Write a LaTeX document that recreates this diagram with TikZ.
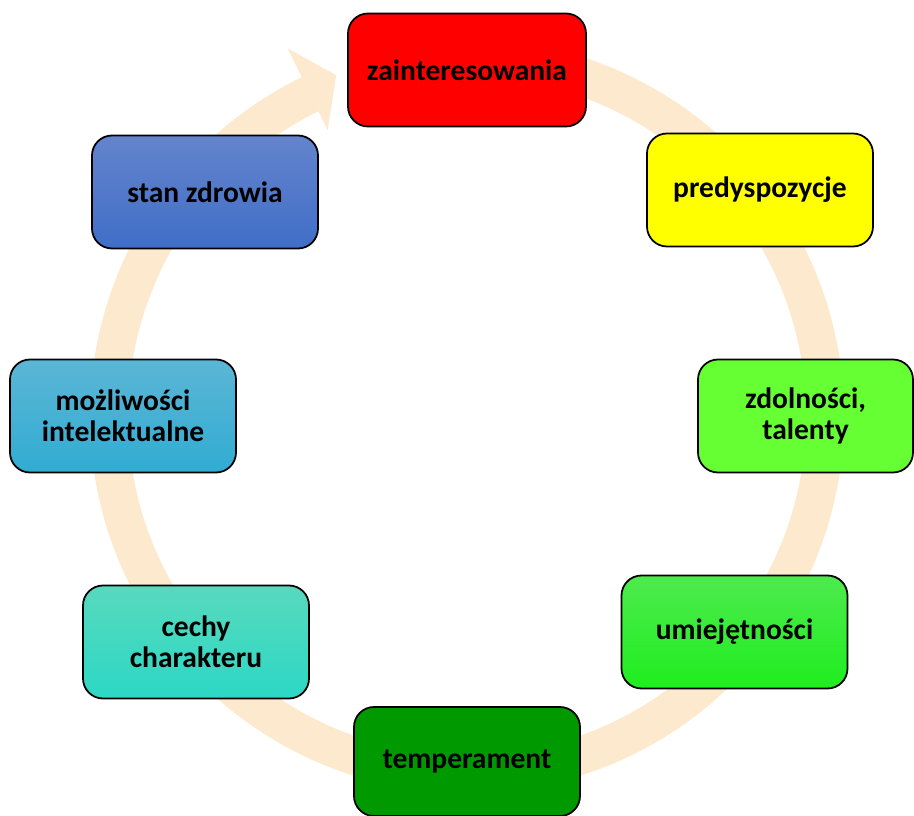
\documentclass[tikz,border=0pt]{standalone}
\usepackage{fontspec}
\setsansfont{Carlito}
\usepackage{xcolor}
\usepackage{tikz}
\usetikzlibrary{arrows.meta}
\usetikzlibrary{calc,positioning}
\definecolor{ringPeach}{RGB}{253,233,205}
\tikzset{%
  % Specifications for style of nodes:
  base/.style = {rectangle, rounded corners=0.4cm, draw=black, line width=1pt,
    minimum width=4.52cm,
    minimum height=2.26cm,
    align=center,
    text centered, font=\sffamily\bfseries\fontsize{16.8}{17.5}\selectfont},
  interests/.style = {base, minimum width=4.76cm, fill={rgb,255:red,255;green,0;blue,0}},
  predisposition/.style = {base, fill={rgb,255:red,255;green,255;blue,0}},
  talents/.style = {base, minimum width=4.3cm, fill={rgb,255:red,102;green,255;blue,51}},
  skills/.style = {base, top color={rgb,255:red,78;green,234;blue,78},
    bottom color={rgb,255:red,30;green,238;blue,30}},
  temperamentBox/.style = {base, minimum height=2.18cm, fill={rgb,255:red,0;green,153;blue,0}},
  character/.style = {base, top color={rgb,255:red,88;green,217;blue,190},
    bottom color={rgb,255:red,44;green,216;blue,196}},
  intellect/.style = {base, top color={rgb,255:red,92;green,182;blue,214},
    bottom color={rgb,255:red,48;green,172;blue,210}},
  health/.style = {base, top color={rgb,255:red,100;green,132;blue,204},
    bottom color={rgb,255:red,64;green,110;blue,200}},
}

\begin{document}
\begin{tikzpicture}
        \useasboundingbox (-9.34,-8.0) rectangle (8.94,8.32);
        % ring arrow behind the boxes
        \draw[line width=0.76cm, ringPeach] (90:7.16) arc[start angle=90, end angle=-244, radius=7.16];
        \fill[ringPeach] (116:6.36) -- (111:7.3) -- (116:8.18) -- cycle;
        % Specification of nodes (position, etc.)
        \node(Zain)[interests] at (0,6.92) {zainteresowania};
        \node(Pred)[predisposition] at (5.86,4.52) {predyspozycje};
        \node(Zdol)[talents] at (6.77,0) {zdolności,\\ talenty};
        \node(Umie)[skills] at (5.35,-4.32) {umiejętności};
        \node(Temp)[temperamentBox] at (0,-6.91) {temperament};
        \node(Cech)[character] at (-5.42,-4.52) {cechy\\ charakteru};
        \node(Mozl)[intellect] at (-6.88,0) {możliwości\\ intelektualne};
        \node(Stan)[health] at (-5.24,4.48) {stan zdrowia};
    \end{tikzpicture}
\end{document}
